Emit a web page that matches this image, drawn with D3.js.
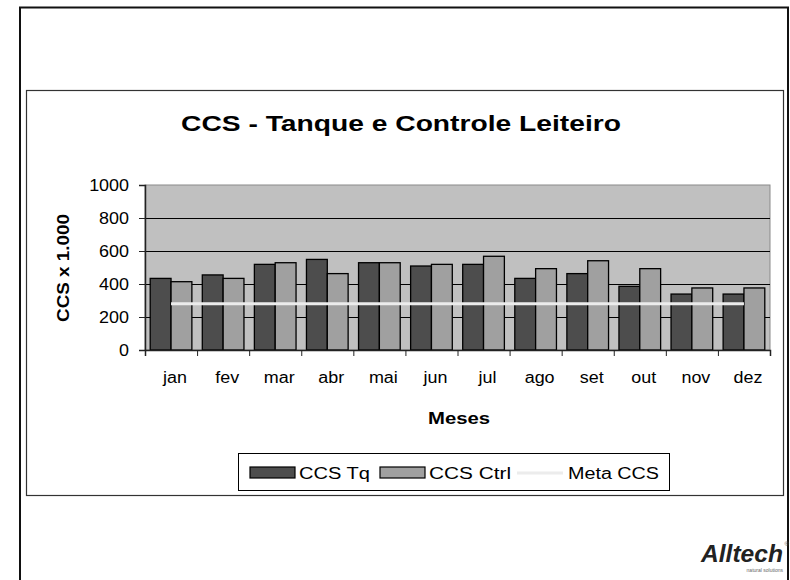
<!DOCTYPE html>
<html><head><meta charset="utf-8">
<script src="https://cdn.jsdelivr.net/npm/d3@7"></script>
<style>body{margin:0;background:#fff}svg{display:block}text{font-family:"Liberation Sans",Arial,sans-serif}</style>
</head><body><svg id="c" width="790" height="580"></svg>
<script>
const months = ["jan","fev","mar","abr","mai","jun","jul","ago","set","out","nov","dez"];
const ccsTq   = [434,455,519,549,529,509,519,434,463,386,339,339];
const ccsCtrl = [414,434,529,463,529,519,568,493,541,493,376,376];
const metaCcs = [280,280,280,280,280,280,280,280,280,280,280,280];
const yTicks = [0,200,400,600,800,1000];
const seriesNames = ["CCS Tq","CCS Ctrl","Meta CCS"];

function stretch(sel, f){
  sel.each(function(){
    const w = this.getComputedTextLength();
    d3.select(this).attr("textLength", w*f).attr("lengthAdjust","spacingAndGlyphs");
  });
}

const svg = d3.select("#c");
svg.append("rect").attr("x",20).attr("y",7.5).attr("width",768).attr("height",600)
  .attr("fill","none").attr("stroke","#111").attr("stroke-width",2);
svg.append("rect").attr("x",26.5).attr("y",90.5).attr("width",757).attr("height",405)
  .attr("fill","#fff").attr("stroke","#333").attr("stroke-width",1.2);

const L=145, R=770, T=185, B=350;
const x0 = d3.scaleBand().domain(months).range([L,R]).paddingInner(0.2).paddingOuter(0.1);
const x1 = d3.scaleBand().domain(["tq","ctrl"]).range([0,x0.bandwidth()]);
const xb = d3.scaleLinear().domain([0,12]).range([L,R]);
const y = d3.scaleLinear().domain([0,1000]).range([B,T]);

svg.append("rect").attr("x",L).attr("y",T).attr("width",R-L).attr("height",B-T)
  .attr("fill","#c0c0c0").attr("stroke","#8a8a8a").attr("stroke-width",1);
svg.append("g").selectAll("line").data(yTicks.filter(d=>d>0 && d<1000)).join("line")
  .attr("x1",L).attr("x2",R).attr("y1",d=>Math.round(y(d))+0.5).attr("y2",d=>Math.round(y(d))+0.5)
  .attr("stroke","#000").attr("stroke-width",1);

const data = months.map((m,i)=>({m, tq:ccsTq[i], ctrl:ccsCtrl[i]}));
const g = svg.append("g");
const colors = {tq:"#4d4d4d", ctrl:"#a0a0a0"};
["tq","ctrl"].forEach(k=>{
  g.selectAll("rect."+k).data(data).join("rect").attr("class",k)
    .attr("x",d=>x0(d.m)+x1(k)).attr("width",x1.bandwidth())
    .attr("y",d=>y(d[k])).attr("height",d=>B-y(d[k]))
    .attr("fill",colors[k]).attr("stroke","#000").attr("stroke-width",1.3);
});

const line = d3.line().x((d,i)=>x0(months[i])+x0.bandwidth()/2).y(d=>y(d));
svg.append("path").datum(metaCcs).attr("d",line).attr("fill","none")
  .attr("stroke","#ececec").attr("stroke-width",3);

const ya = svg.append("g").attr("transform",`translate(${L},0)`)
  .call(d3.axisLeft(y).tickValues(yTicks).tickSize(6).tickPadding(10).tickFormat(d3.format("d")));
ya.select(".domain").attr("stroke","#222").attr("stroke-width",1.5);
ya.selectAll(".tick line").attr("stroke","#222");
ya.selectAll("text").attr("font-size",16).attr("fill","#000").style("font-family","Liberation Sans, Arial");
stretch(ya.selectAll("text"),1.12);

const xa = svg.append("g").attr("transform",`translate(0,${B})`)
  .call(d3.axisBottom(xb).tickValues(d3.range(13)).tickSize(6).tickFormat(""));
xa.select(".domain").attr("stroke","#222").attr("stroke-width",1.5);
xa.selectAll(".tick line").attr("stroke","#222");
const xl = svg.append("g").attr("transform",`translate(4,${B})`)
  .call(d3.axisBottom(x0).tickSize(0).tickPadding(22));
xl.select(".domain").remove();
xl.selectAll("text").attr("font-size",16).attr("fill","#000").style("font-family","Liberation Sans, Arial");
stretch(xl.selectAll("text"),1.12);

svg.append("text").attr("x",401).attr("y",131).attr("text-anchor","middle")
  .attr("font-size",22).attr("font-weight","bold")
  .attr("textLength",440).attr("lengthAdjust","spacingAndGlyphs").text("CCS - Tanque e Controle Leiteiro");
svg.append("text").attr("x",459).attr("y",424).attr("text-anchor","middle")
  .attr("font-size",16).attr("font-weight","bold")
  .attr("textLength",62).attr("lengthAdjust","spacingAndGlyphs").text("Meses");
svg.append("text").attr("transform","translate(69,268) rotate(-90)").attr("text-anchor","middle")
  .attr("font-size",16).attr("font-weight","bold")
  .attr("textLength",108).attr("lengthAdjust","spacingAndGlyphs").text("CCS x 1.000");

const lg = svg.append("g");
lg.append("rect").attr("x",238.5).attr("y",453.5).attr("width",431).attr("height",37)
  .attr("fill","#fff").attr("stroke","#000").attr("stroke-width",1);
const items = [
  {name:seriesNames[0], type:"rect", color:colors.tq, x:250, tx:299, w:71},
  {name:seriesNames[1], type:"rect", color:colors.ctrl, x:380, tx:429, w:82},
  {name:seriesNames[2], type:"line", color:"#ececec", x:517, tx:568, w:91}
];
items.forEach(it=>{
  if(it.type==="rect"){
    lg.append("rect").attr("x",it.x).attr("y",467).attr("width",45).attr("height",11)
      .attr("fill",it.color).attr("stroke","#000").attr("stroke-width",1.2);
  } else {
    lg.append("line").attr("x1",it.x).attr("x2",it.x+46).attr("y1",473).attr("y2",473)
      .attr("stroke",it.color).attr("stroke-width",3);
  }
  lg.append("text").attr("x",it.tx).attr("y",479).attr("font-size",16)
    .attr("textLength",it.w).attr("lengthAdjust","spacingAndGlyphs").text(it.name);
});

const logo = svg.append("g");
logo.append("text").attr("x",783).attr("y",562).attr("text-anchor","end")
  .attr("font-size",24).attr("font-weight","bold").attr("font-style","italic")
  .attr("fill","#222").attr("textLength",82).attr("lengthAdjust","spacingAndGlyphs").text("Alltech");
logo.append("text").attr("x",789).attr("y",546).attr("text-anchor","end").attr("font-size",6).attr("fill","#555").text("®");
logo.append("text").attr("x",783).attr("y",572).attr("text-anchor","end").attr("font-size",5).attr("fill","#666").text("natural solutions");
</script></body></html>
